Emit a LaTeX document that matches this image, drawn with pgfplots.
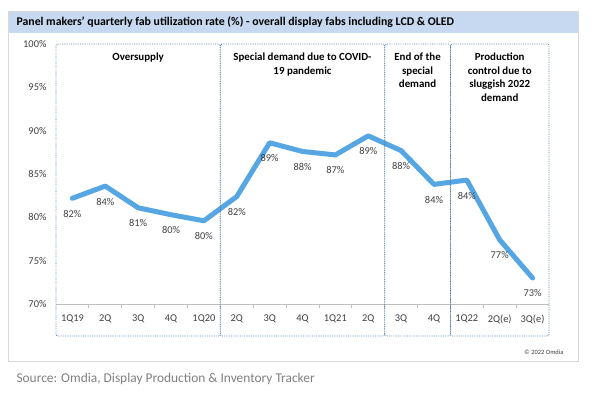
\documentclass[border=0pt]{standalone}
\usepackage{fontspec}
\setmainfont{Carlito}
\usepackage{pgfplots}
\pgfplotsset{compat=1.18}
\definecolor{linec}{RGB}{86,166,228}
\definecolor{boxc}{RGB}{80,125,165}
\definecolor{band}{RGB}{198,217,240}
\definecolor{framec}{RGB}{217,217,217}
\definecolor{txt}{RGB}{64,64,64}
\definecolor{srcc}{RGB}{128,128,128}
\begin{document}
\begin{tikzpicture}[x=1pt,y=1pt]
\useasboundingbox (0,0) rectangle (599,395);
\fill[white] (0,0) rectangle (599,395);
\draw[framec, line width=1pt] (8,33) rectangle (578,383);
\fill[band] (8.5,362) rectangle (577.5,382.5);
\node[anchor=west, font=\bfseries\fontsize{11.8}{13}\selectfont] at (13,372.5) {Panel makers’ quarterly fab utilization rate (\%) - overall display fabs including LCD \& OLED};
\node[anchor=west, text=srcc, font=\fontsize{13.4}{15}\selectfont] at (13,16) {Source: Omdia, Display Production \& Inventory Tracker};
\node[anchor=east, text=txt, font=\fontsize{6.5}{8}\selectfont] at (567,43) {© 2022 Omdia};
\begin{axis}[
 at={(56pt,91pt)}, anchor=south west, scale only axis, width=493pt, height=260pt,
 xmin=-0.5, xmax=14.5, ymin=70, ymax=100,
 clip=false,
 axis x line*=bottom, axis y line*=left,
 y axis line style={draw=none},
 x axis line style={draw=gray!50, line width=0.8pt, -},
 xtick={0,...,14},
 xticklabels={1Q19,2Q,3Q,4Q,1Q20,2Q,3Q,4Q,1Q21,2Q,3Q,4Q,1Q22,2Q(e),3Q(e)},
 minor xtick={0.5,1.5,...,13.5},
 major tick length=0pt, minor tick length=4pt,
 tick align=outside,
 minor tick style={draw=gray!50, line width=0.8pt},
 ytick={70,75,...,100},
 yticklabel={\pgfmathprintnumber{\tick}\%},
 ytick style={draw=none},
 tick label style={font=\fontsize{10.4}{12}\selectfont, text=txt},
 /pgf/number format/assume math mode=true,
 yticklabel style={xshift=-6pt},
 xticklabel style={yshift=-7pt},
]
\addplot[linec, line width=5pt, line join=round, line cap=round, mark=none,
 nodes near coords={\pgfmathprintnumber[fixed,precision=0]{\pgfplotspointmeta}\%},
 every node near coord/.append style={anchor=north, yshift=-6pt, font=\fontsize{10.4}{12}\selectfont, text=txt}]
 coordinates {(0,82.2) (1,83.6) (2,81.1) (3,80.3) (4,79.6) (5,82.4) (6,88.6) (7,87.6) (8,87.2) (9,89.4) (10,87.7) (11,83.8) (12,84.3) (13,77.4) (14,73.0)};
\begin{scope}[boxc, line width=0.8pt, dash pattern=on 0.7pt off 1.1pt, rounded corners=2pt]
\draw (axis cs:-0.5,66.3) rectangle (axis cs:4.5,100);
\draw (axis cs:4.5,66.3) rectangle (axis cs:9.5,100);
\draw (axis cs:9.5,66.3) rectangle (axis cs:11.5,100);
\draw (axis cs:11.5,66.3) rectangle (axis cs:14.5,100);
\end{scope}
\begin{scope}[every node/.style={anchor=north, align=center, inner sep=0pt, font=\bfseries\fontsize{10.9}{13.5}\selectfont}]
\node at (axis cs:2,99.0) {Oversupply};
\node at (axis cs:7,99.0) {Special demand due to COVID-\\19 pandemic};
\node at (axis cs:10.5,99.0) {End of the\\special\\demand};
\node at (axis cs:13,99.0) {Production\\control due to\\sluggish 2022\\demand};
\end{scope}
\end{axis}
\end{tikzpicture}
\end{document}
